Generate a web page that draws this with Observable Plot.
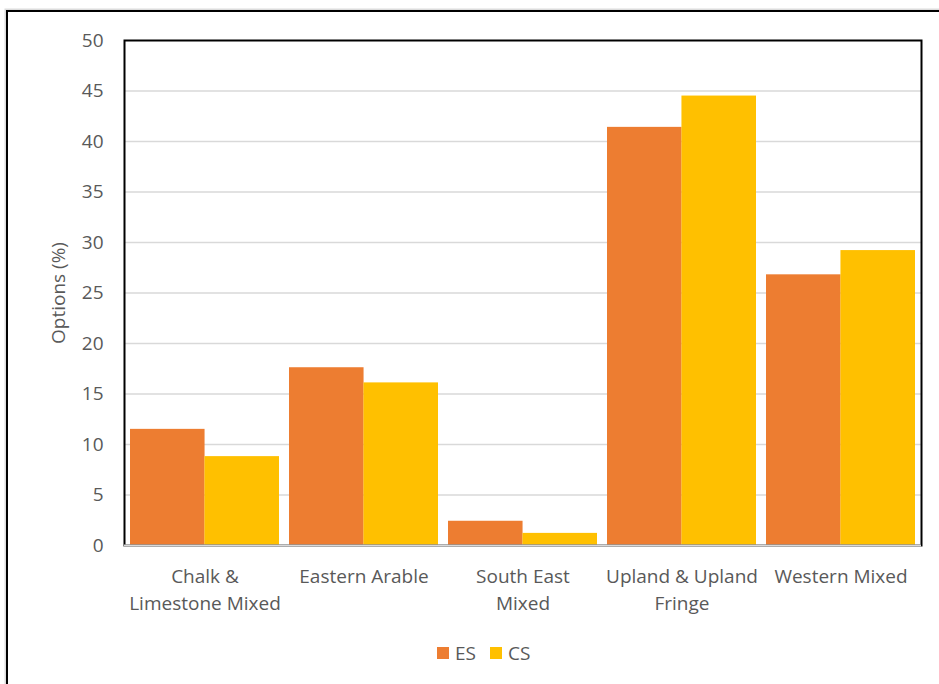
<!DOCTYPE html>
<html>
<head>
<meta charset="utf-8">
<script src="https://cdn.jsdelivr.net/npm/d3@7"></script>
<script src="https://cdn.jsdelivr.net/npm/@observablehq/plot@0.6"></script>
<style>
  html, body { margin: 0; padding: 0; background: #fff; overflow: hidden; }
  #page { position: relative; width: 939px; height: 684px; font-family: "Open Sans", sans-serif; overflow: hidden; }
  #border { position: absolute; left: 6px; top: 10px; width: 1100px; height: 900px;
            border-left: 2.5px solid #000; border-top: 2.5px solid #000;
            box-shadow: -1.5px -1.5px 0 #dcdcdc; }
  #chart { position: absolute; left: 0; top: 0; }
  #legend { position: absolute; left: 437px; top: 640px; display: flex; align-items: center;
            font-size: 19px; color: #595959; }
  #legend .item { display: flex; align-items: center; margin-right: 14px; }
  #legend .swatch { width: 12px; height: 12px; margin-right: 6px; }
</style>
</head>
<body>
<div id="page">
  <div id="border"></div>
  <div id="chart"></div>
  <div id="legend"></div>
</div>
<script>
// Farm types and the share of options (%) for each scheme
const categories = ["Chalk & Limestone Mixed", "Eastern Arable", "South East Mixed", "Upland & Upland Fringe", "Western Mixed"];
const categoryLabels = ["Chalk &\nLimestone Mixed", "Eastern Arable", "South East\nMixed", "Upland & Upland\nFringe", "Western Mixed"];
const series = ["ES", "CS"];
const esValues = [11.5, 17.6, 2.4, 41.4, 26.8];
const csValues = [8.8, 16.1, 1.2, 44.5, 29.2];
const seriesColors = ["#ED7D31", "#FFC000"];
const yTicks = [0, 5, 10, 15, 20, 25, 30, 35, 40, 45, 50];

const rows = categories.flatMap((c, i) => [
  {category: c, series: "ES", value: esValues[i]},
  {category: c, series: "CS", value: csValues[i]}
]);

const W = 939, H = 625;
const mL = 124, mR = 18, mT = 40, mB = 80;
const padIn = 0.066, padOut = 0.033;

// Each category band holds two adjacent bars: ES on the left half, CS on the right half
const band = d3.scaleBand().domain(categories).range([mL, W - mR]).paddingInner(padIn).paddingOuter(padOut);
const half = band.bandwidth() / 2;
const labelOf = new Map(categories.map((c, i) => [c, categoryLabels[i]]));

const chart = Plot.plot({
  width: W,
  height: H,
  marginLeft: mL,
  marginRight: mR,
  marginTop: mT,
  marginBottom: mB,
  style: {fontFamily: "'Open Sans', sans-serif", fontSize: "19px", color: "#595959", background: "transparent", overflow: "visible"},
  x: {domain: categories, paddingInner: padIn, paddingOuter: padOut, label: null},
  y: {domain: [0, 50], label: null},
  color: {domain: series, range: seriesColors},
  marks: [
    Plot.gridY(yTicks.filter(t => t > 0 && t < 50), {stroke: "#d9d9d9", strokeOpacity: 1, strokeWidth: 1.5}),
    Plot.barY(rows.filter(d => d.series === "ES"), {x: "category", y: "value", fill: "series", insetRight: half}),
    Plot.barY(rows.filter(d => d.series === "CS"), {x: "category", y: "value", fill: "series", insetLeft: half}),
    Plot.frame({stroke: "#000", strokeWidth: 2}),
    Plot.ruleY([0], {stroke: "#d9d9d9", strokeWidth: 2}),
    Plot.axisY({ticks: yTicks, tickSize: 0, tickPadding: 21, label: null, fontSize: 19}),
    Plot.axisX({tickSize: 0, tickPadding: 18, label: null, tickFormat: c => labelOf.get(c), lineHeight: 1.42, fontSize: 19}),
    Plot.text(["Options (%)"], {frameAnchor: "left", textAnchor: "middle", rotate: -90, dx: -66, fill: "#595959", fontSize: 19})
  ]
});
document.getElementById("chart").appendChild(chart);

// Legend below the chart
const legend = document.getElementById("legend");
series.forEach((s, i) => {
  const item = document.createElement("div");
  item.className = "item";
  const sw = document.createElement("div");
  sw.className = "swatch";
  sw.style.background = seriesColors[i];
  const tx = document.createElement("span");
  tx.textContent = s;
  item.appendChild(sw);
  item.appendChild(tx);
  legend.appendChild(item);
});
</script>
</body>
</html>
